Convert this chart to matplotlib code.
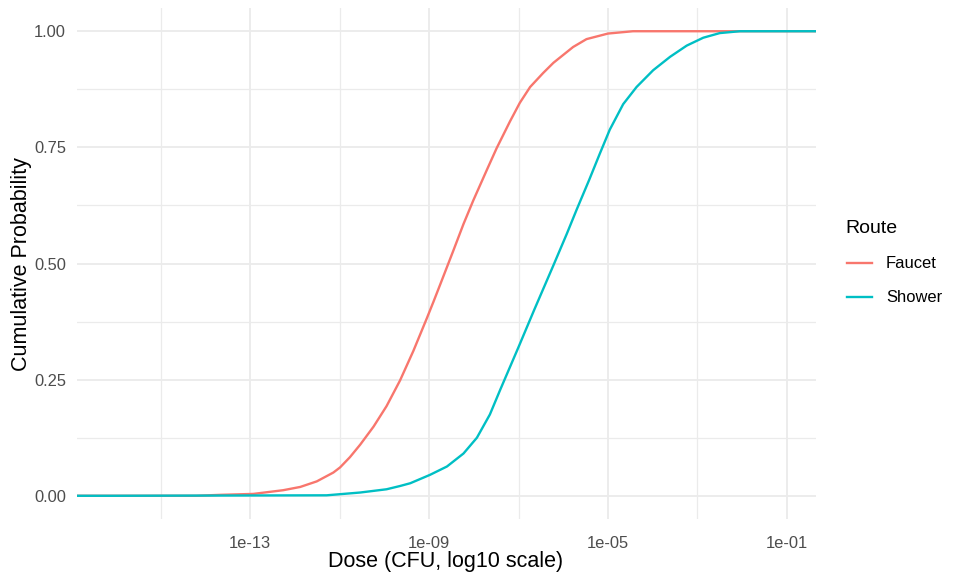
import numpy as np
import matplotlib
matplotlib.use("Agg")
import matplotlib.pyplot as plt
from matplotlib.lines import Line2D

plt.rcParams['font.family'] = ['Liberation Sans', 'DejaVu Sans']

# ---- data (log10 dose, cumulative probability) ----
faucet_log10_dose = [-14.20, -13.67, -12.93, -12.26, -11.88, -11.51, -11.14, -10.99,
                     -10.77, -10.54, -10.24, -9.95, -9.65, -9.35, -9.05, -8.90, -8.75,
                     -8.46, -8.23, -8.01, -7.71, -7.49, -7.19, -6.97, -6.74, -6.45,
                     -6.22, -5.78, -5.48, -5.00, -4.44, -3.00]
faucet_prob = [0.000, 0.002, 0.004, 0.012, 0.019, 0.031, 0.050, 0.061,
               0.083, 0.110, 0.149, 0.193, 0.248, 0.312, 0.382, 0.418, 0.455,
               0.527, 0.585, 0.636, 0.701, 0.748, 0.806, 0.846, 0.880, 0.910,
               0.932, 0.966, 0.983, 0.995, 1.000, 1.000]

shower_log10_dose = [-16.12, -11.29, -10.54, -9.95, -9.65, -9.42, -8.98, -8.60, -8.23,
                     -7.93, -7.64, -7.41, -7.00, -6.65, -6.22, -5.92, -5.70, -5.42,
                     -5.18, -4.96, -4.66, -4.36, -3.99, -3.61, -3.24, -2.87, -2.50,
                     -2.05, -1.10]
shower_prob = [0.000, 0.001, 0.007, 0.014, 0.021, 0.027, 0.045, 0.063, 0.091,
               0.125, 0.175, 0.228, 0.320, 0.400, 0.496, 0.564, 0.616, 0.680,
               0.737, 0.788, 0.843, 0.880, 0.916, 0.945, 0.969, 0.986, 0.996,
               1.000, 1.000]

routes = ["Faucet", "Shower"]
route_colors = ["#F8766D", "#00BFC4"]
x_major_ticks = [1e-13, 1e-09, 1e-05, 1e-01]
x_tick_labels = ["1e-13", "1e-09", "1e-05", "1e-01"]
x_minor_ticks = [1e-15, 1e-11, 1e-07, 1e-03]
y_major_ticks = [0.0, 0.25, 0.5, 0.75, 1.0]
y_tick_labels = ["0.00", "0.25", "0.50", "0.75", "1.00"]
y_minor_ticks = [0.125, 0.375, 0.625, 0.875]

W, H = 960, 574
fig = plt.figure(figsize=(W / 100, H / 100), dpi=100)
fig.patch.set_facecolor("white")

def fx(px):
    return px / W

def fy(py):
    return 1 - py / H

ax = fig.add_axes([fx(77), fy(519), fx(816) - fx(77), fy(8) - fy(519)])
ax.set_facecolor("white")

# limits with ggplot-like 5% expansion
all_log = np.array(faucet_log10_dose + shower_log10_dose)
lo, hi = all_log.min(), all_log.max()
span = hi - lo
xlim_log = (lo - 0.05 * span, hi + 0.05 * span)
ax.set_xscale("log")
ax.set_xlim(10 ** xlim_log[0], 10 ** xlim_log[1])
ax.set_ylim(-0.05, 1.05)

# grid
grid_col = "#EBEBEB"
for v in x_minor_ticks:
    ax.axvline(v, color=grid_col, lw=0.9, zorder=0)
for v in x_major_ticks:
    ax.axvline(v, color=grid_col, lw=1.3, zorder=0)
for v in y_minor_ticks:
    ax.axhline(v, color=grid_col, lw=0.9, zorder=0)
for v in y_major_ticks:
    ax.axhline(v, color=grid_col, lw=1.3, zorder=0)

# ECDF-like curves padded to -Inf / +Inf (axis edges)
series = [(faucet_log10_dose, faucet_prob), (shower_log10_dose, shower_prob)]
lines = []
for (lg, pr), col in zip(series, route_colors):
    xs = np.concatenate([[xlim_log[0]], lg, [xlim_log[1]]])
    ys = np.concatenate([[0.0], pr, [1.0]])
    ln, = ax.plot(10 ** xs, ys, color=col, lw=1.7, solid_capstyle="butt",
                  solid_joinstyle="round", zorder=3)
    lines.append(ln)

for s in ax.spines.values():
    s.set_visible(False)

ax.set_xticks(x_major_ticks)
ax.set_xticklabels(x_tick_labels)
ax.set_xticks([], minor=True)
ax.set_yticks(y_major_ticks)
ax.set_yticklabels(y_tick_labels)
ax.tick_params(axis="both", length=0, labelsize=11.9, labelcolor="#4D4D4D")
ax.tick_params(axis="x", pad=12)
ax.tick_params(axis="y", pad=8)

fig.text(fx(446), fy(562), "Dose (CFU, log10 scale)", ha="center", va="center",
         fontsize=15.5, color="black")
fig.text(fx(22), fy(264), "Cumulative Probability", ha="center", va="center",
         rotation=90, fontsize=15.5, color="black")

# legend
fig.text(fx(845), fy(228), "Route", ha="left", va="center", fontsize=14, color="black")
for i, (name, ln) in enumerate(zip(routes, lines)):
    yy = [263.3, 297.3][i]
    fig.add_artist(Line2D([fx(846.7), fx(871.7)], [fy(yy), fy(yy)],
                          color=ln.get_color(), lw=1.7, transform=fig.transFigure))
    fig.text(fx(886), fy(yy), name, ha="left", va="center", fontsize=11.9, color="black")

fig.savefig("out.png", dpi=100, facecolor="white")
